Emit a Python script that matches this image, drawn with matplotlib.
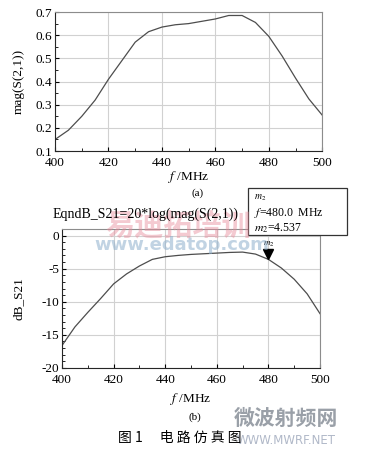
import numpy as np
import matplotlib.pyplot as plt
from matplotlib.ticker import MultipleLocator
from matplotlib.patches import Rectangle

plt.rcParams['font.family'] = ['Liberation Serif', 'Noto Sans CJK SC']
plt.rcParams['mathtext.fontset'] = 'stix'
plt.rcParams['axes.unicode_minus'] = False

# (a) magnitud de S21
f_a = [400, 405, 410, 415, 420, 425, 430, 435, 440, 445, 450, 455, 460,
       465, 470, 475, 480, 485, 490, 495, 500]
mag = [0.15, 0.19, 0.25, 0.32, 0.41, 0.49, 0.57, 0.615, 0.635, 0.645, 0.65,
       0.66, 0.67, 0.685, 0.685, 0.655, 0.595, 0.51, 0.415, 0.325, 0.255]

# (b) dB_S21
f_b = [400, 405, 410, 415, 420, 425, 430, 435, 440, 445, 450, 455, 460,
       465, 470, 475, 480, 485, 490, 495, 500]
db = [-16.6, -13.8, -11.6, -9.5, -7.3, -5.8, -4.6, -3.6, -3.2, -3.0, -2.85,
      -2.75, -2.65, -2.55, -2.5, -2.8, -3.6, -4.9, -6.6, -8.8, -11.8]

m2_f = 480.0
m2_val = -3.6
caja_txt = ['$m_2$', '$f$=480.0  MHz', '$m_2$=4.537']

fig = plt.figure(figsize=(3.67, 4.62), dpi=100)
fs = 9.5

def estilo(ax):
    ax.grid(True, color='0.82', lw=0.8)
    for s in ['top', 'right']:
        ax.spines[s].set_color('0.55')
    for s in ['left', 'bottom']:
        ax.spines[s].set_color('0.15')
    ax.tick_params(which='both', direction='in', labelsize=fs)
    ax.tick_params(axis='x', pad=4)
    ax.tick_params(axis='y', pad=2)
    ax.tick_params(which='major', length=3)
    ax.tick_params(which='minor', length=2)

# Grafica (a)
ax1 = fig.add_axes([0.150, 0.673, 0.728, 0.301])
ax1.plot(f_a, mag, color='0.3', lw=0.9)
ax1.set_xlim(400, 500)
ax1.set_ylim(0.1, 0.7)
ax1.xaxis.set_major_locator(MultipleLocator(20))
ax1.xaxis.set_minor_locator(MultipleLocator(10))
ax1.yaxis.set_major_locator(MultipleLocator(0.1))
ax1.yaxis.set_minor_locator(MultipleLocator(0.05))
estilo(ax1)
ax1.set_ylabel('mag(S(2,1))', fontsize=fs, labelpad=8)
ax1.set_xlabel('$f$ /MHz', fontsize=fs, labelpad=0)
fig.text(0.537, 0.582, '(a)', fontsize=8, ha='center', va='center')

# Grafica (b)
ax2 = fig.add_axes([0.169, 0.2035, 0.703, 0.301])
ax2.plot(f_b, db, color='0.3', lw=0.9)
ax2.set_xlim(400, 500)
ax2.set_ylim(-20, 1)
ax2.xaxis.set_major_locator(MultipleLocator(20))
ax2.xaxis.set_minor_locator(MultipleLocator(10))
ax2.yaxis.set_major_locator(MultipleLocator(5))
ax2.yaxis.set_minor_locator(MultipleLocator(1))
estilo(ax2)
ax2.set_ylabel('dB_S21', fontsize=fs, labelpad=12)
ax2.set_xlabel('$f$ /MHz', fontsize=fs, labelpad=4)
ax2.plot([m2_f], [m2_val + 0.8], marker='v', color='black', ms=7)
ax2.text(m2_f, m2_val + 1.55, '$m_2$', fontsize=6.5, ha='center', va='bottom')

# Marcas de agua
fig.text(0.485, 0.513, '易迪拓培训', fontsize=21, color='#e88a9a', alpha=0.45,
         ha='center', va='center', weight='bold', family=['Noto Sans CJK SC'])
fig.text(0.496, 0.470, 'www.edatop.com', fontsize=13, color='#8fb0cc', alpha=0.55,
         ha='center', va='center', weight='bold', family=['DejaVu Sans'])
fig.text(0.78, 0.095, '微波射频网', fontsize=15, color='#9aa0a8',
         ha='center', va='center', weight='bold', family=['Noto Sans CJK SC'])
fig.text(0.78, 0.046, 'WWW.MWRF.NET', fontsize=8.5, color='#b0b8c8',
         ha='center', va='center', family=['DejaVu Sans'])

fig.text(0.143, 0.537, 'EqndB_S21=20*log(mag(S(2,1))', fontsize=10,
         ha='left', va='center')

# Cuadro del marcador
fig.add_artist(Rectangle((248 / 367, 1 - 235 / 462), 99 / 367, 47 / 462,
                         transform=fig.transFigure, fc='white', ec='0.2', lw=0.9))
for i, t in enumerate(caja_txt):
    fig.text(254 / 367, 1 - (198 + 15 * i) / 462, t,
             fontsize=7 if i == 0 else 8.5, ha='left', va='center')

fig.text(0.532, 0.097, '(b)', fontsize=8, ha='center', va='center')
fig.text(0.49, 0.052, '图 1　 电 路 仿 真 图', fontsize=10, ha='center', va='center',
         family=['Noto Sans CJK SC'])

fig.savefig('out.png', dpi=100)
